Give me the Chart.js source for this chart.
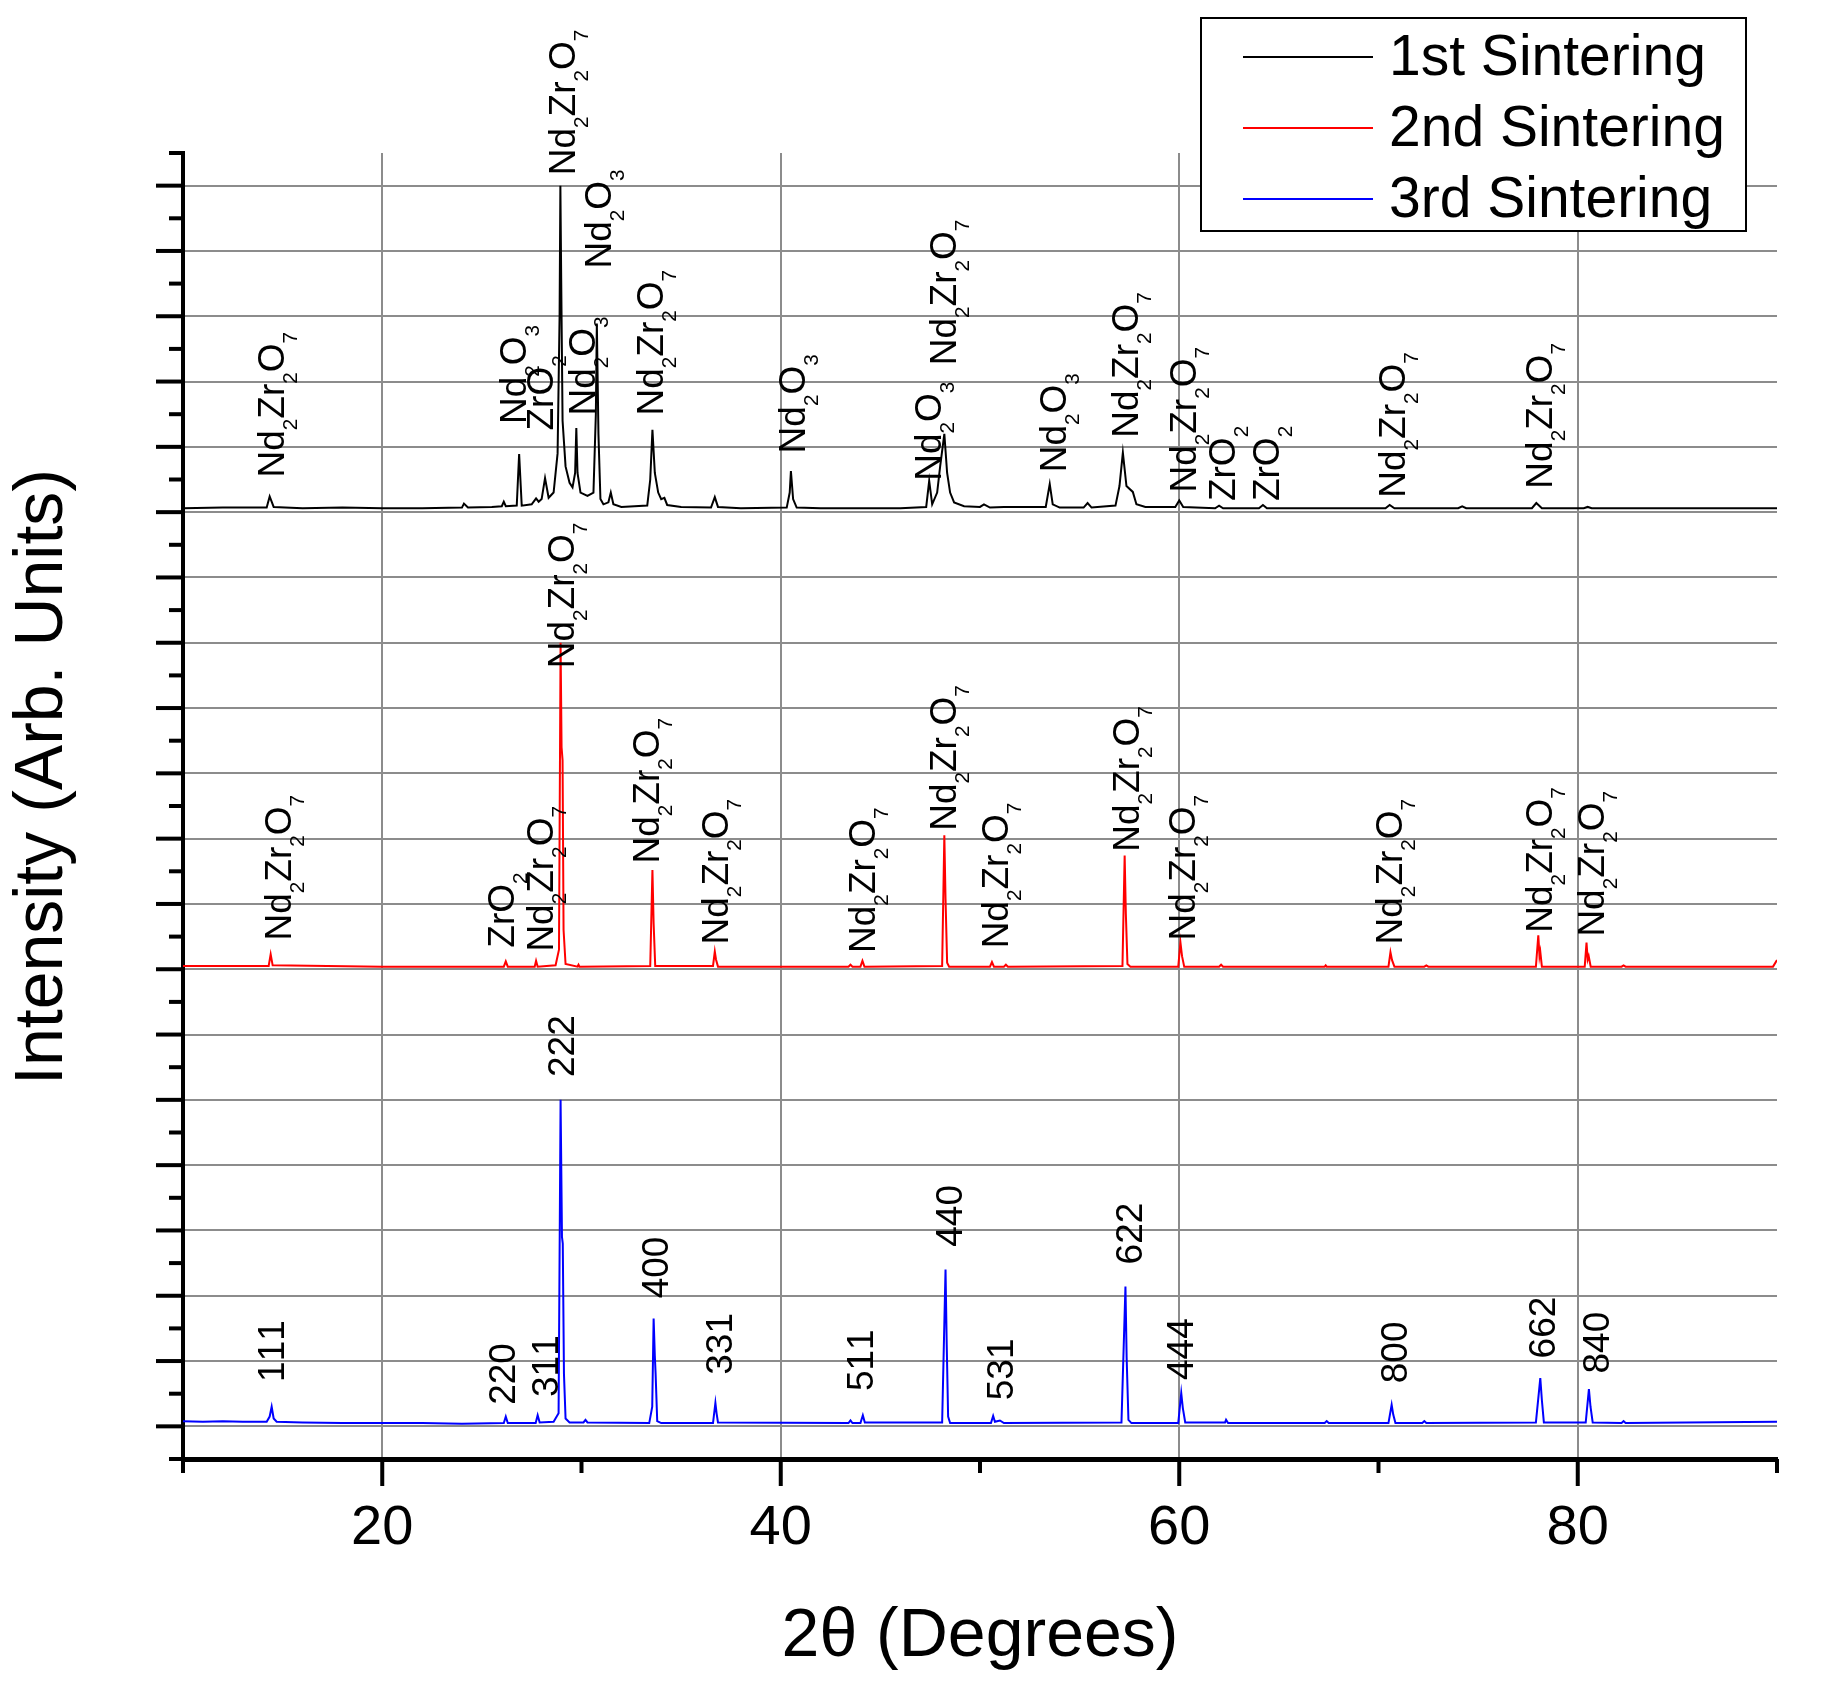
<!DOCTYPE html>
<html>
<head>
<meta charset="utf-8">
<title>XRD - Nd2Zr2O7 sintering</title>
<script src="https://cdn.jsdelivr.net/npm/chart.js@4.4.1/dist/chart.umd.min.js"></script>
<style>
  html, body { margin: 0; padding: 0; background: #fff; }
  #wrap { width: 1831px; height: 1698px; }
</style>
</head>
<body>
<div id="wrap"><canvas id="xrd" width="1831" height="1698"></canvas></div>
<script>
// series names (legend) and vertical offsets of each pattern (grid units)
const seriesNames = ['1st Sintering', '2nd Sintering', '3rd Sintering'];
const seriesOffsets = [14, 7, 0];

// x tick labels that are printed
const xTickLabels = [20, 40, 60, 80];

// patterns: [2theta, intensity above own baseline]
const pattern1 = [
  [10.0, 0.06], [12.0, 0.07], [14.2, 0.07], [14.35, 0.24], [14.55, 0.08], [16.0, 0.06], [18.0, 0.07],
  [20.0, 0.06], [22.0, 0.06], [24.0, 0.07], [24.1, 0.13], [24.3, 0.07], [25.5, 0.08], [26.0, 0.09],
  [26.1, 0.16], [26.2, 0.09], [26.75, 0.1], [26.87, 0.89], [27.0, 0.1], [27.5, 0.12], [27.72, 0.21],
  [27.85, 0.16], [28.0, 0.2], [28.17, 0.52], [28.35, 0.22], [28.6, 0.3], [28.8, 0.9], [28.9, 3.0],
  [28.94, 5.0], [28.98, 3.6], [29.05, 1.4], [29.2, 0.7], [29.4, 0.45], [29.55, 0.38], [29.68, 0.6],
  [29.74, 1.29], [29.8, 0.6], [29.95, 0.3], [30.3, 0.25], [30.6, 0.3], [30.72, 1.5], [30.77, 2.89],
  [30.85, 1.2], [30.95, 0.2], [31.1, 0.12], [31.35, 0.15], [31.47, 0.3], [31.6, 0.12], [32.0, 0.08],
  [33.3, 0.1], [33.45, 0.5], [33.56, 1.26], [33.68, 0.6], [33.85, 0.3], [34.0, 0.2], [34.16, 0.22],
  [34.3, 0.11], [35.0, 0.08], [36.5, 0.07], [36.69, 0.23], [36.85, 0.08], [38.0, 0.06], [40.3, 0.07],
  [40.45, 0.3], [40.51, 0.63], [40.62, 0.2], [40.8, 0.07], [42.0, 0.06], [44.0, 0.06], [46.0, 0.06],
  [47.3, 0.08], [47.45, 0.48], [47.6, 0.12], [47.85, 0.3], [48.0, 0.7], [48.21, 1.2], [48.35, 0.6],
  [48.5, 0.3], [48.7, 0.15], [49.2, 0.09], [50.0, 0.08], [50.2, 0.12], [50.5, 0.07], [51.2, 0.08],
  [53.3, 0.08], [53.5, 0.43], [53.65, 0.12], [54.0, 0.07], [55.2, 0.07], [55.4, 0.14], [55.6, 0.07],
  [56.8, 0.1], [57.0, 0.4], [57.17, 0.91], [57.35, 0.4], [57.67, 0.31], [57.85, 0.12], [58.3, 0.08],
  [59.8, 0.08], [60.0, 0.18], [60.2, 0.08], [61.8, 0.06], [62.0, 0.1], [62.2, 0.06], [64.0, 0.06],
  [64.2, 0.11], [64.4, 0.06], [68.0, 0.06], [70.35, 0.06], [70.56, 0.11], [70.8, 0.06], [74.0, 0.06],
  [74.2, 0.09], [74.4, 0.06], [77.7, 0.06], [77.92, 0.14], [78.2, 0.06], [80.3, 0.06], [80.5, 0.08],
  [80.7, 0.06], [85.0, 0.06], [90.0, 0.06]
];

const pattern2 = [
  [10.0, 0.05], [14.3, 0.05], [14.4, 0.23], [14.5, 0.06], [20.0, 0.04], [26.1, 0.04], [26.2, 0.12],
  [26.3, 0.04], [27.65, 0.04], [27.72, 0.13], [27.8, 0.04], [28.7, 0.06], [28.87, 0.3], [28.95, 5.0],
  [29.0, 3.4], [29.05, 3.2], [29.1, 0.6], [29.2, 0.08], [29.8, 0.04], [29.85, 0.07], [29.9, 0.04],
  [33.45, 0.05], [33.56, 1.52], [33.62, 0.7], [33.7, 0.05], [36.6, 0.05], [36.69, 0.27], [36.75, 0.15],
  [36.85, 0.04], [43.4, 0.04], [43.5, 0.07], [43.6, 0.04], [44.0, 0.04], [44.1, 0.13], [44.2, 0.04],
  [48.1, 0.05], [48.21, 2.05], [48.27, 1.08], [48.35, 0.1], [48.45, 0.04], [50.5, 0.04], [50.6, 0.11],
  [50.7, 0.04], [51.2, 0.04], [51.3, 0.07], [51.4, 0.04], [57.15, 0.05], [57.26, 1.74], [57.32, 0.85],
  [57.4, 0.08], [57.55, 0.04], [59.95, 0.04], [60.06, 0.41], [60.14, 0.2], [60.25, 0.04], [62.0, 0.04],
  [62.1, 0.07], [62.2, 0.04], [67.3, 0.04], [67.35, 0.06], [67.4, 0.04], [70.5, 0.04], [70.6, 0.26],
  [70.68, 0.14], [70.8, 0.04], [72.3, 0.04], [72.4, 0.06], [72.5, 0.04], [77.9, 0.04], [78.02, 0.52],
  [78.08, 0.2], [78.12, 0.27], [78.2, 0.04], [80.35, 0.04], [80.44, 0.41], [80.5, 0.15], [80.55, 0.2],
  [80.65, 0.04], [82.2, 0.04], [82.3, 0.06], [82.4, 0.04], [89.8, 0.04], [90.0, 0.14]
];

const pattern3 = [
  [10.0, 0.08], [11.0, 0.07], [12.0, 0.08], [13.0, 0.07], [14.2, 0.07], [14.35, 0.15], [14.45, 0.3],
  [14.55, 0.12], [14.7, 0.07], [16.0, 0.06], [18.0, 0.05], [20.0, 0.05], [22.0, 0.05], [24.0, 0.04],
  [26.1, 0.05], [26.2, 0.15], [26.3, 0.05], [27.7, 0.05], [27.8, 0.17], [27.9, 0.06], [28.6, 0.07],
  [28.85, 0.2], [28.95, 5.0], [29.02, 2.9], [29.06, 2.8], [29.12, 0.8], [29.2, 0.12], [29.4, 0.06],
  [30.1, 0.06], [30.2, 0.1], [30.3, 0.06], [33.4, 0.05], [33.55, 0.3], [33.62, 1.65], [33.68, 1.08],
  [33.72, 0.8], [33.8, 0.08], [34.0, 0.05], [36.6, 0.05], [36.72, 0.36], [36.78, 0.2], [36.85, 0.06],
  [43.4, 0.05], [43.5, 0.09], [43.6, 0.05], [44.0, 0.05], [44.12, 0.17], [44.22, 0.06], [48.1, 0.06],
  [48.27, 2.4], [48.33, 1.25], [48.4, 0.15], [48.5, 0.05], [50.55, 0.05], [50.66, 0.16], [50.75, 0.07],
  [51.0, 0.09], [51.2, 0.05], [57.1, 0.06], [57.3, 2.14], [57.36, 1.05], [57.45, 0.1], [57.6, 0.05],
  [59.95, 0.05], [60.1, 0.51], [60.18, 0.28], [60.3, 0.06], [62.3, 0.06], [62.35, 0.1], [62.45, 0.05],
  [67.3, 0.05], [67.4, 0.08], [67.5, 0.05], [70.5, 0.05], [70.66, 0.33], [70.74, 0.18], [70.85, 0.05],
  [72.2, 0.05], [72.3, 0.08], [72.4, 0.05], [77.9, 0.06], [78.12, 0.74], [78.2, 0.4], [78.3, 0.06],
  [80.4, 0.06], [80.56, 0.57], [80.64, 0.3], [80.75, 0.06], [82.2, 0.05], [82.3, 0.08], [82.4, 0.05],
  [90.0, 0.07]
];

// peak labels: [2theta, height above own baseline where text starts, text]
const labels1 = [
  [14.42, 0.53, 'Nd2Zr2O7'], [26.53, 1.35, 'Nd2O3'], [27.88, 1.25, 'ZrO2'], [29.0, 5.16, 'Nd2Zr2O7'],
  [30.0, 1.48, 'Nd2O3'], [30.8, 3.73, 'Nd2O3'], [33.43, 1.48, 'Nd2Zr2O7'], [40.56, 0.9, 'Nd2O3'],
  [47.36, 0.48, 'Nd2O3'], [48.15, 2.25, 'Nd2Zr2O7'], [53.65, 0.61, 'Nd2O3'], [57.26, 1.14, 'Nd2Zr2O7'],
  [60.15, 0.3, 'Nd2Zr2O7'], [62.14, 0.17, 'ZrO2'], [64.33, 0.17, 'ZrO2'], [70.66, 0.22, 'Nd2Zr2O7'],
  [78.02, 0.36, 'Nd2Zr2O7']
];
const labels2 = [
  [14.76, 0.44, 'Nd2Zr2O7'], [25.93, 0.33, 'ZrO2'], [27.88, 0.27, 'Nd2Zr2O7'], [28.95, 4.61, 'Nd2Zr2O7'],
  [33.22, 1.62, 'Nd2Zr2O7'], [36.69, 0.38, 'Nd2Zr2O7'], [44.06, 0.25, 'Nd2Zr2O7'], [48.15, 2.12, 'Nd2Zr2O7'],
  [50.75, 0.32, 'Nd2Zr2O7'], [57.3, 1.8, 'Nd2Zr2O7'], [60.13, 0.44, 'Nd2Zr2O7'], [70.5, 0.38, 'Nd2Zr2O7'],
  [78.02, 0.56, 'Nd2Zr2O7'], [80.66, 0.5, 'Nd2Zr2O7']
];
const labels3 = [
  [14.4, 0.68, '111'], [25.97, 0.33, '220'], [28.14, 0.45, '311'], [28.97, 5.35, '222'],
  [33.67, 1.96, '400'], [36.9, 0.79, '331'], [43.96, 0.54, '511'], [48.45, 2.75, '440'],
  [50.97, 0.4, '531'], [57.45, 2.48, '622'], [60.0, 0.71, '444'], [70.75, 0.66, '800'],
  [78.2, 1.04, '662'], [80.92, 0.81, '840']
];

const FONT = "'Liberation Sans', Arial, Helvetica, sans-serif";
const GRID = '#8c8c8c';
const colors = ['#000000', '#ff0000', '#0000ff'];
const patterns = [pattern1, pattern2, pattern3];
const peakLabels = [labels1, labels2, labels3];

// rotated label, subscripts for digits inside chemical formulas
function drawFormula(ctx, text, x, y, size) {
  const chem = /[A-Za-z]/.test(text);
  ctx.save();
  ctx.translate(x, y);
  ctx.rotate(-Math.PI / 2);
  ctx.fillStyle = '#000';
  ctx.textAlign = 'left';
  ctx.textBaseline = 'alphabetic';
  const base = size * 0.36;
  let pos = 0;
  for (const ch of text) {
    const sub = chem && /\d/.test(ch);
    ctx.font = (sub ? size * 0.56 : size) + 'px ' + FONT;
    ctx.fillText(ch, pos, sub ? base + size * 0.35 : base);
    pos += ctx.measureText(ch).width;
  }
  ctx.restore();
}

const peakLabelPlugin = {
  id: 'peakLabels',
  afterDatasetsDraw(chart) {
    const xs = chart.scales.x, ys = chart.scales.y;
    peakLabels.forEach((list, i) => {
      list.forEach(l => {
        drawFormula(chart.ctx, l[2], xs.getPixelForValue(l[0]), ys.getPixelForValue(l[1] + seriesOffsets[i]), 37);
      });
    });
  }
};

// tick marks: long at major, short at minor
const tickPlugin = {
  id: 'axisTicks',
  afterDraw(chart) {
    const ctx = chart.ctx;
    const xs = chart.scales.x, ys = chart.scales.y;
    ctx.save();
    ctx.strokeStyle = '#000';
    ctx.lineWidth = 4;
    xs.ticks.forEach(t => {
      const px = xs.getPixelForValue(t.value);
      const len = t.value % 20 === 0 ? 27 : 14;
      ctx.beginPath();
      ctx.moveTo(px, chart.chartArea.bottom);
      ctx.lineTo(px, chart.chartArea.bottom + len);
      ctx.stroke();
    });
    ys.ticks.forEach(t => {
      const py = ys.getPixelForValue(t.value);
      const major = Math.abs(t.value - Math.round(t.value)) < 1e-6;
      ctx.beginPath();
      ctx.moveTo(chart.chartArea.left, py);
      ctx.lineTo(chart.chartArea.left - (major ? 27 : 14), py);
      ctx.stroke();
    });
    ctx.restore();
  }
};

// y title sits a bit above the axis middle, draw it here
const yTitlePlugin = {
  id: 'yTitle',
  afterDraw(chart) {
    const ctx = chart.ctx;
    ctx.save();
    ctx.translate(62, 777);
    ctx.rotate(-Math.PI / 2);
    ctx.font = '68px ' + FONT;
    ctx.fillStyle = '#000';
    ctx.textAlign = 'center';
    ctx.textBaseline = 'alphabetic';
    ctx.fillText('Intensity (Arb. Units)', 0, 0);
    ctx.restore();
  }
};

const legendPlugin = {
  id: 'boxLegend',
  afterDraw(chart) {
    const ctx = chart.ctx;
    ctx.save();
    ctx.fillStyle = '#fff';
    ctx.fillRect(1201, 18, 545, 213);
    ctx.strokeStyle = '#000';
    ctx.lineWidth = 2;
    ctx.strokeRect(1201, 18, 545, 213);
    ctx.font = '57px ' + FONT;
    ctx.textBaseline = 'middle';
    ctx.textAlign = 'left';
    chart.data.datasets.forEach((ds, i) => {
      const y = 57 + i * 71;
      ctx.strokeStyle = ds.borderColor;
      ctx.lineWidth = 2;
      ctx.beginPath();
      ctx.moveTo(1243, y);
      ctx.lineTo(1373, y);
      ctx.stroke();
      ctx.fillStyle = '#000';
      ctx.fillText(ds.label, 1389, y + 2);
    });
    ctx.restore();
  }
};

const datasets = patterns.map((p, i) => ({
  label: seriesNames[i],
  data: p.map(pt => ({ x: pt[0], y: pt[1] + seriesOffsets[i] })),
  borderColor: colors[i],
  backgroundColor: colors[i],
  borderWidth: 2,
  pointRadius: 0,
  tension: 0,
  fill: false
}));

new Chart(document.getElementById('xrd'), {
  type: 'line',
  data: { datasets: datasets },
  options: {
    responsive: false,
    animation: false,
    devicePixelRatio: 1,
    layout: { autoPadding: false, padding: { left: 0, top: 153, right: 54, bottom: 0 } },
    plugins: { legend: { display: false }, tooltip: { enabled: false } },
    scales: {
      x: {
        type: 'linear',
        min: 10, max: 90,
        afterFit: s => { s.height = 239; },
        grid: {
          drawTicks: false,
          lineWidth: 2,
          color: c => (c.tick && xTickLabels.includes(c.tick.value)) ? GRID : 'rgba(0,0,0,0)'
        },
        border: { display: true, color: '#000', width: 5 },
        ticks: {
          stepSize: 10,
          autoSkip: false,
          maxRotation: 0,
          padding: 36,
          color: '#000',
          font: { family: FONT, size: 56 },
          callback: v => xTickLabels.includes(v) ? String(v) : ''
        },
        title: {
          display: true,
          text: '2\u03b8 (Degrees)',
          color: '#000',
          font: { family: FONT, size: 68 },
          padding: { top: 0, bottom: 20 }
        }
      },
      y: {
        type: 'linear',
        min: -0.5, max: 19.5,
        afterFit: s => { s.width = 183; },
        grid: {
          drawTicks: false,
          lineWidth: 2,
          color: c => (c.tick && Math.abs(c.tick.value - Math.round(c.tick.value)) < 1e-6) ? GRID : 'rgba(0,0,0,0)'
        },
        border: { display: true, color: '#000', width: 4 },
        ticks: { display: false, stepSize: 0.5, autoSkip: false }
      }
    }
  },
  plugins: [peakLabelPlugin, tickPlugin, yTitlePlugin, legendPlugin]
});
</script>
</body>
</html>
